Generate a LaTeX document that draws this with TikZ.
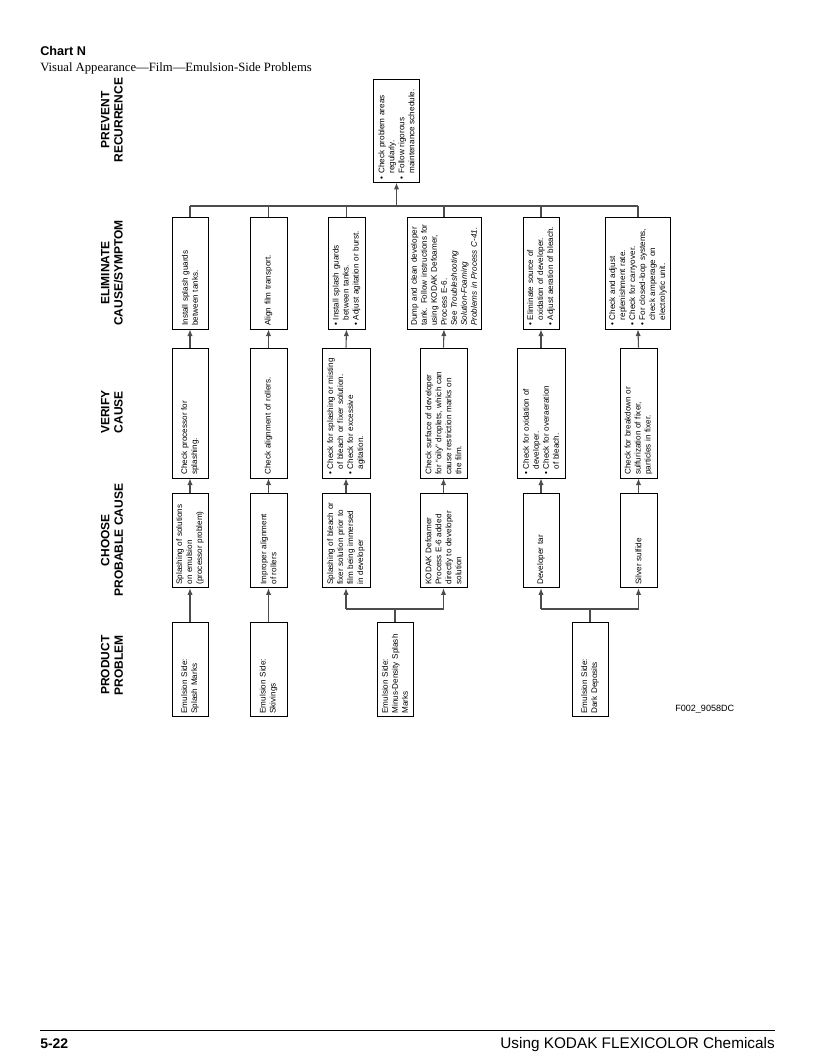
\documentclass[tikz,border=0pt]{standalone}
\usepackage{fontspec}
\setmainfont{Liberation Serif}
\setsansfont{Liberation Sans}
\usetikzlibrary{arrows.meta}
\newcommand\fs{\sffamily\fontsize{6.1}{7.5}\selectfont\hyphenpenalty=10000\exhyphenpenalty=10000}
\newcommand\bul{\textbullet\ }
\newcommand\ind{\phantom{\textbullet\ }}
\tikzset{
  box/.style={draw=black, line width=0.6pt, rotate=90, font=\fs, align=left, inner xsep=2.5pt, inner ysep=3pt},
  head/.style={rotate=90, font=\sffamily\bfseries\fontsize{9}{10}\selectfont, align=center},
  ln/.style={draw=black!70, line width=0.8pt},
  arr/.style={ln, -{Latex[length=5pt,width=4pt]}}
}
\begin{document}
\begin{tikzpicture}[x=0.75pt,y=-0.75pt]
\useasboundingbox (0,0) rectangle (816,1056);
% title
\node[anchor=base west, font=\sffamily\bfseries\fontsize{9.5}{11}\selectfont, inner sep=0] (title) at (40,56) {Chart N};
\node[anchor=base west, font=\fontsize{9.5}{11}\selectfont, inner sep=0] (sub) at (40,71) {Visual Appearance---Film---Emulsion-Side Problems};
% headers
\node[head] (h1) at (112,665) {PRODUCT\\PROBLEM};
\node[head] (h2) at (112,540) {CHOOSE\\PROBABLE CAUSE};
\node[head] (h3) at (112,412) {VERIFY\\CAUSE};
\node[head] (h4) at (112,273) {ELIMINATE\\CAUSE/SYMPTOM};
\node[head] (h5) at (112,120) {PREVENT\\RECURRENCE};
% prevent
\node[box, minimum width=76.5pt, text width=72pt, minimum height=35pt] (pr) at (396.5,131) {\bul Check problem areas\\\ind regularly.\\\bul Follow rigorous\\\ind maintenance schedule.};
% eliminate row
\node[box, minimum width=84pt, text width=79pt, minimum height=27pt] (e1) at (190,273) {Install splash guards\\between tanks.};
\node[box, minimum width=84pt, text width=79pt, minimum height=27.75pt] (e2) at (268.5,273) {Align film transport.};
\node[box, minimum width=84pt, text width=79pt, minimum height=27.75pt] (e3) at (346.5,273) {\bul Install splash guards\\\ind between tanks.\\\bul Adjust agitation or burst.};
\node[box, minimum width=84pt, text width=79pt, minimum height=55.5pt] (e4) at (444,273) {Dump and clean developer\\tank. Follow instructions for\\using KODAK Defoamer,\\Process E-6.\\See \textit{Troubleshooting}\\\textit{Solution-Foaming}\\\textit{Problems in Process C-41.}};
\node[box, minimum width=84pt, text width=79pt, minimum height=27pt] (e5) at (541,273) {\bul Eliminate source of\\\ind oxidation of developer.\\\bul Adjust aeration of bleach.};
\node[box, minimum width=84pt, text width=79pt, minimum height=46.5pt] (e6) at (638,273) {\bul Check and adjust\\\ind replenishment rate.\\\bul Check for carryover.\\\bul For closed-loop systems,\\\ind check amperage on\\\ind electrolytic unit.};
% verify
\node[box, minimum width=97.5pt, text width=92.5pt, minimum height=27pt] (v1) at (190,413) {Check processor for\\splashing.};
\node[box, minimum width=97.5pt, text width=92.5pt, minimum height=27.75pt] (v2) at (268.5,413) {Check alignment of rollers.};
\node[box, minimum width=97.5pt, text width=92.5pt, minimum height=36pt] (v3) at (346,413) {\bul Check for splashing or misting\\\ind of bleach or fixer solution.\\\bul Check for excessive\\\ind agitation.};
\node[box, minimum width=97.5pt, text width=92.5pt, minimum height=35.25pt] (v4) at (443.5,413) {Check surface of developer\\for ``oily'' droplets, which can\\cause restriction marks on\\the film.};
\node[box, minimum width=97.5pt, text width=92.5pt, minimum height=36pt] (v5) at (541,413) {\bul Check for oxidation of\\\ind developer.\\\bul Check for overaeration\\\ind of bleach.};
\node[box, minimum width=97.5pt, text width=92.5pt, minimum height=27.75pt] (v6) at (638.5,413) {Check for breakdown or\\sulfurization of fixer,\\particles in fixer.};
% probable cause
\node[box, minimum width=71pt, text width=66pt, minimum height=27pt] (c1) at (190,540.5) {Splashing of solutions\\on emulsion\\(processor problem)};
\node[box, minimum width=71pt, text width=66pt, minimum height=27.75pt] (c2) at (268.5,540.5) {Improper alignment\\of rollers};
\node[box, minimum width=71pt, text width=66pt, minimum height=36pt] (c3) at (346,540.5) {Splashing of bleach or\\fixer solution prior to\\film being immersed\\in developer};
\node[box, minimum width=71pt, text width=66pt, minimum height=35.25pt] (c4) at (443.5,540.5) {KODAK Defoamer\\Process E-6 added\\directly to developer\\solution};
\node[box, minimum width=71pt, text width=66pt, minimum height=27pt] (c5) at (541,540.5) {Developer tar};
\node[box, minimum width=71pt, text width=66pt, minimum height=27.75pt] (c6) at (638.5,540.5) {Silver sulfide};
% product
\node[box, minimum width=71pt, text width=66pt, minimum height=27pt] (d1) at (190,669.5) {Emulsion Side:\\Splash Marks};
\node[box, minimum width=71pt, text width=66pt, minimum height=27.75pt] (d2) at (268.5,669.5) {Emulsion Side:\\Skivings};
\node[box, minimum width=71pt, text width=66pt, minimum height=27pt] (d3) at (395,669.5) {Emulsion Side:\\Minus-Density Splash\\Marks};
\node[box, minimum width=71pt, text width=66pt, minimum height=27pt] (d4) at (590,669.5) {Emulsion Side:\\Dark Deposits};
\node[font=\sffamily\fontsize{6.8}{8}\selectfont, anchor=west, inner sep=0] (code) at (675,709) {F002\_9058DC};
% connectors
\coordinate (busE) at (0,206);
\coordinate (busA) at (0,609);
\draw[arr] (d1.east) -- (c1.west);
\draw[arr] (d2.east) -- (c2.west);
\draw[ln] (d3.east) -- (d3.east|-busA);
\draw[ln] (c3.west|-busA) -- (c4.west|-busA);
\draw[arr] (c3.west|-busA) -- (c3.west);
\draw[arr] (c4.west|-busA) -- (c4.west);
\draw[ln] (d4.east) -- (d4.east|-busA);
\draw[ln] (c5.west|-busA) -- (c6.west|-busA);
\draw[arr] (c5.west|-busA) -- (c5.west);
\draw[arr] (c6.west|-busA) -- (c6.west);
\foreach \i in {1,...,6}{
  \draw[arr] (c\i.east) -- (v\i.west);
  \draw[arr] (v\i.east) -- (e\i.west);
  \draw[ln] (e\i.east) -- (e\i.east|-busE);
}
\draw[ln] (e1.east|-busE) -- (e6.east|-busE);
\draw[arr] (pr.west|-busE) -- (pr.west);
% footer
\coordinate (fl) at (40,1030);
\coordinate (fr) at (775,1030);
\draw[line width=0.5pt] (fl) -- (fr);
\node[anchor=base west, font=\sffamily\bfseries\fontsize{10.5}{12}\selectfont, inner sep=0] (pg) at (40,1048) {5-22};
\node[anchor=base east, font=\sffamily\fontsize{11.5}{13}\selectfont, inner sep=0] (bk) at (775,1048) {Using KODAK FLEXICOLOR Chemicals};
\end{tikzpicture}
\end{document}
